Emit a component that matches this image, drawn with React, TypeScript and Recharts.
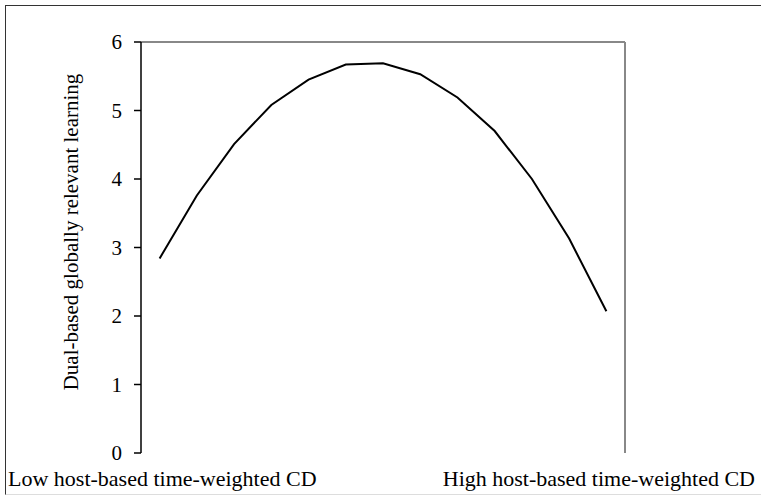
import { LineChart, Line, XAxis, YAxis, ReferenceLine, Label } from 'recharts';

// x positions (low -> high host-based time-weighted CD)
const steps = [1, 2, 3, 4, 5, 6, 7, 8, 9, 10, 11, 12, 13];
const learning = [2.84, 3.76, 4.51, 5.08, 5.45, 5.67, 5.69, 5.53, 5.19, 4.7, 4.0, 3.13, 2.07];
const yTicks = [0, 1, 2, 3, 4, 5, 6];

const data = steps.map((x, i) => ({ x, y: learning[i] }));

const FONT = '"Liberation Serif", "Times New Roman", serif';

const YLabel = () => (
  <text
    x={71}
    y={232}
    transform="rotate(-90, 71, 232)"
    textAnchor="middle"
    dominantBaseline="central"
    fontFamily={FONT}
    fontSize={21}
    fill="#000"
  >
    Dual-based globally relevant learning
  </text>
);

export default function App() {
  return (
    <div
      style={{
        position: 'absolute',
        left: 0,
        top: 0,
        width: 761,
        height: 495,
        background: '#fff',
        fontFamily: FONT,
      }}
    >
      {/* frame round the figure */}
      <div
        style={{
          position: 'absolute',
          left: 5,
          top: 5,
          width: 756,
          height: 488,
          borderTop: '1px solid #333',
          borderLeft: '1px solid #333',
          borderBottom: '1px solid #ddd',
        }}
      />
      <div style={{ position: 'absolute', left: 0, top: 0 }}>
        <LineChart width={761} height={495} data={data} margin={{ top: 42, right: 136, bottom: 42, left: 0 }}>
          <XAxis
            dataKey="x"
            type="number"
            domain={[0.5, 13.5]}
            height={0}
            tick={false}
            tickLine={false}
            axisLine={{ stroke: '#000', strokeWidth: 1.5 }}
          />
          <YAxis
            width={141}
            domain={[0, 6]}
            ticks={yTicks}
            interval={0}
            tickSize={7}
            tickMargin={12}
            tick={{ fill: '#000', fontSize: 21, fontFamily: FONT }}
            tickLine={{ stroke: '#000', strokeWidth: 1.5 }}
            axisLine={{ stroke: '#000', strokeWidth: 1.5 }}
          >
            <Label content={<YLabel />} />
          </YAxis>
          <ReferenceLine y={6} stroke="#888" strokeWidth={2} />
          <ReferenceLine x={13.5} stroke="#888" strokeWidth={2} />
          <Line
            type="linear"
            dataKey="y"
            stroke="#000"
            strokeWidth={2}
            dot={false}
            isAnimationActive={false}
          />
        </LineChart>
      </div>
      <span style={{ position: 'absolute', left: 8, top: 469, fontSize: 22, color: '#000', lineHeight: '20px' }}>
        Low host-based time-weighted CD
      </span>
      <span style={{ position: 'absolute', right: 6, top: 469, fontSize: 22, color: '#000', lineHeight: '20px' }}>
        High host-based time-weighted CD
      </span>
    </div>
  );
}
